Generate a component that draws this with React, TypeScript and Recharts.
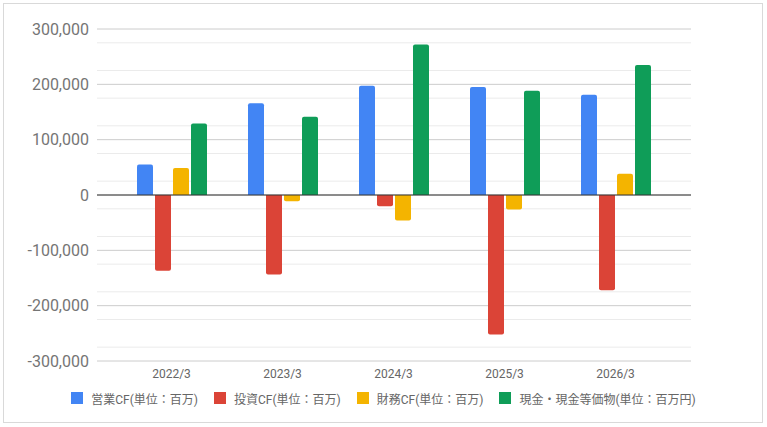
import { BarChart, Bar, XAxis, YAxis, CartesianGrid, Legend, ReferenceLine } from 'recharts';

const categories = ['2022/3', '2023/3', '2024/3', '2025/3', '2026/3'];
const operatingCF = [55000, 166000, 197500, 195000, 181000];
const investingCF = [-137000, -143500, -20500, -252000, -172000];
const financingCF = [49000, -11500, -46000, -26000, 38500];
const cashEquivalents = [129000, 141500, 272000, 188500, 235000];

const yTicks = [-300000, -200000, -100000, 0, 100000, 200000, 300000];
const minorTicks = [
  -275000, -250000, -225000, -175000, -150000, -125000, -75000, -50000, -25000,
  25000, 50000, 75000, 125000, 150000, 175000, 225000, 250000, 275000,
];

const series = [
  { key: 'op', name: '営業CF(単位：百万)', color: '#4285f4' },
  { key: 'inv', name: '投資CF(単位：百万)', color: '#db4437' },
  { key: 'fin', name: '財務CF(単位：百万)', color: '#f4b400' },
  { key: 'cash', name: '現金・現金等価物(単位：百万円)', color: '#0f9d58' },
];

const data = categories.map((c, i) => ({
  year: c,
  op: operatingCF[i],
  inv: investingCF[i],
  fin: financingCF[i],
  cash: cashEquivalents[i],
}));

const font = "Roboto, 'Noto Sans CJK JP', sans-serif";

const LegendContent = () => (
  <div style={{ display: 'flex', justifyContent: 'center', alignItems: 'center', height: 20, fontFamily: font }}>
    {series.map((s, i) => (
      <div key={s.key} style={{ display: 'flex', alignItems: 'center', marginLeft: i === 0 ? 0 : 16 }}>
        <span style={{ width: 12, height: 12, background: s.color, marginRight: 8, display: 'inline-block' }} />
        <span style={{ fontSize: 12, color: '#666' }}>{s.name}</span>
      </div>
    ))}
  </div>
);

export default function App() {
  return (
    <div style={{ position: 'absolute', left: 0, top: 0, width: 767, height: 427, background: '#fff', fontFamily: font }}>
      <div style={{ position: 'absolute', left: 3, top: 3, width: 760, height: 420, border: '1px solid #d9d9d9', boxSizing: 'border-box' }} />
      <div style={{ position: 'absolute', left: 0, top: 0 }}>
        <BarChart
          width={767}
          height={427}
          data={data}
          barSize={16}
          barGap={2}
          margin={{ top: 29, right: 76, left: 0, bottom: 19 }}
        >
          <CartesianGrid horizontalValues={minorTicks} vertical={false} stroke="#ebebeb" />
          <CartesianGrid vertical={false} stroke="#cccccc" />
          <XAxis
            dataKey="year"
            height={27}
            padding={{ left: 19, right: 20 }}
            axisLine={false}
            tickLine={false}
            tick={{ fontSize: 12, fill: '#666', fontFamily: font }}
          />
          <YAxis
            width={97}
            domain={[-300000, 300000]}
            ticks={yTicks}
            axisLine={false}
            tickLine={false}
            tickFormatter={(v: number) => v.toLocaleString('en-US')}
            tick={{ fontSize: 16, fill: '#757575', fontFamily: font }}
          />
          <Legend height={20} content={<LegendContent />} wrapperStyle={{ left: 0, width: 767, bottom: 19 }} />
          {series.map((s) => (
            <Bar key={s.key} dataKey={s.key} name={s.name} fill={s.color} radius={[2, 2, 0, 0]} isAnimationActive={false} />
          ))}
          <ReferenceLine y={0} stroke="#333" strokeWidth={1} />
        </BarChart>
      </div>
    </div>
  );
}
